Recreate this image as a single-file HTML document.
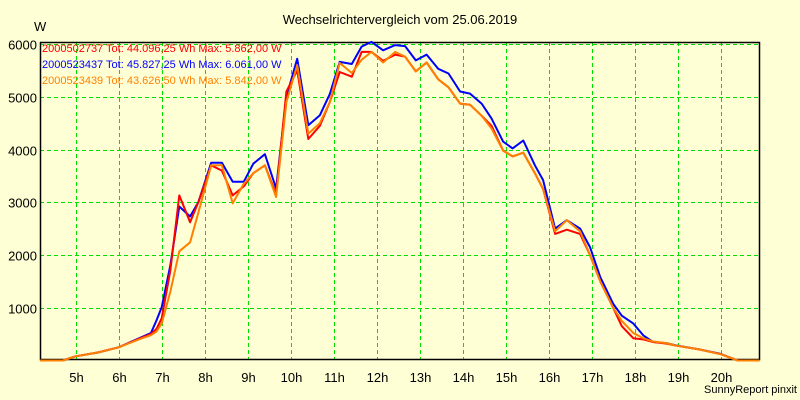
<!DOCTYPE html>
<html><head><meta charset="utf-8"><style>
html,body{margin:0;padding:0;background:#ffffd6;}
svg{display:block;font-family:"Liberation Sans",sans-serif;}
</style></head><body>
<svg id="chart" width="800" height="400" viewBox="0 0 800 400">
<rect x="0" y="0" width="800" height="400" fill="#ffffd6"/>
<text x="400" y="24" font-size="13" text-anchor="middle" fill="#000">Wechselrichtervergleich vom 25.06.2019</text>
<text x="34" y="31" font-size="13" fill="#000">W</text>
<g id="grid"></g><g id="axes"></g><g id="series"></g>
<g font-size="11">
<text x="42" y="52" fill="#ff0000">2000502737 Tot: 44.096,25 Wh Max: 5.862,00 W</text>
<text x="42" y="68" fill="#0000ff">2000523437 Tot: 45.827,25 Wh Max: 6.061,00 W</text>
<text x="42" y="84" fill="#ff8000">2000523439 Tot: 43.626,50 Wh Max: 5.842,00 W</text>
</g>
<text x="797" y="393" font-size="11" text-anchor="end" fill="#000">SunnyReport pinxit</text>
</svg>
<script>
const times=[4.17,4.7,5.0,5.5,6.0,6.5,6.75,6.88,7.0,7.2,7.41,7.66,7.85,8.15,8.4,8.65,8.91,9.13,9.4,9.66,9.9,10.15,10.41,10.68,10.91,11.14,11.42,11.65,11.88,12.15,12.43,12.66,12.91,13.16,13.43,13.67,13.94,14.17,14.44,14.67,14.94,15.16,15.41,15.68,15.87,16.15,16.42,16.73,16.96,17.2,17.5,17.7,17.97,18.2,18.43,18.74,18.97,19.5,20.0,20.4,20.9];
const blue=[0,0,80,150,250,430,520,760,1010,1800,2920,2730,3000,3750,3750,3390,3390,3730,3910,3260,5000,5720,4460,4650,5050,5660,5620,5950,6040,5880,5980,5960,5690,5800,5530,5440,5100,5060,4870,4590,4150,4020,4170,3700,3420,2500,2660,2500,2150,1580,1075,850,700,475,350,330,285,210,125,0,0];
const red=[0,0,80,150,250,420,500,600,800,1700,3130,2620,3000,3700,3600,3130,3300,3550,3700,3150,5100,5500,4200,4450,4900,5470,5380,5850,5850,5680,5800,5760,5480,5650,5330,5180,4870,4850,4640,4450,3980,3870,3940,3550,3250,2400,2480,2400,2000,1500,1000,650,420,400,350,320,280,210,120,0,0];
const orange=[0,0,80,150,250,410,480,550,700,1300,2070,2240,2800,3700,3700,2980,3350,3550,3700,3100,4900,5600,4300,4500,4900,5640,5450,5700,5850,5650,5850,5760,5480,5650,5330,5180,4870,4850,4640,4400,3980,3870,3940,3550,3250,2450,2660,2450,2000,1500,1000,750,520,420,360,330,280,210,120,0,0];
const yTicks=[1000,2000,3000,4000,5000,6000];
const xTicks=[5,6,7,8,9,10,11,12,13,14,15,16,17,18,19,20];
const NS="http://www.w3.org/2000/svg";
const L=40,R=759,T=42,B=359;
function xs(h){return 75.7+(h-5)*43;}
function ys(v){return 360.5-v*0.05275;}
const grid=document.getElementById('grid'),axes=document.getElementById('axes'),ser=document.getElementById('series');
function mk(tag,attrs,parent){const e=document.createElementNS(NS,tag);for(const k in attrs)e.setAttribute(k,attrs[k]);parent.appendChild(e);return e;}
yTicks.forEach(v=>{
 const y=Math.round(ys(v))+0.5;
 const g=mk('line',{x1:L,x2:R,y1:y,y2:y,stroke:'#00e000','stroke-dasharray':'4,3','stroke-width':1},grid);
 
 
 const t=mk('text',{x:37,y:y+5,'font-size':13,'text-anchor':'end',fill:'#000'},axes);
 t.textContent=v;
 
 
});
xTicks.forEach(h=>{
 const x=Math.round(xs(h))+0.5;
 const g=mk('line',{x1:x,x2:x,y1:T,y2:B,stroke:'#00e000','stroke-dasharray':'4,3','stroke-width':1},grid);
 
 
 const t=mk('text',{x:x,y:382,'font-size':13,'text-anchor':'middle',fill:'#000'},axes);
 t.textContent=h+'h';
 
 
});
const frame=mk('polyline',{points:`${L+0.5},${T} ${L+0.5},${B+0.5} ${R+0.5},${B+0.5} ${R+0.5},${T+0.5} ${L},${T+0.5}`,fill:'none',stroke:'#000','stroke-width':1.5},axes);


[[blue,'#0000ff','series-2000523437'],[red,'#ff0000','series-2000502737'],[orange,'#ff8000','series-2000523439']].forEach(([arr,c,n])=>{
 const pts=times.map((t,i)=>xs(t).toFixed(1)+','+ys(arr[i]).toFixed(1)).join(' ');
 const p=mk('polyline',{points:pts,fill:'none',stroke:c,'stroke-width':2,'stroke-linejoin':'round'},ser);
 
 
});
</script>
</body></html>
